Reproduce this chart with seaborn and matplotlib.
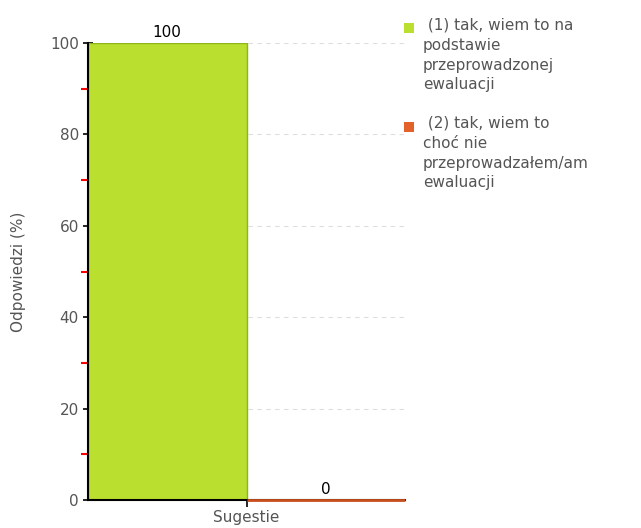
import matplotlib
matplotlib.use("Agg")
import matplotlib.pyplot as plt
import seaborn as sns
import pandas as pd
from matplotlib.ticker import MultipleLocator
from matplotlib.patches import Rectangle

categories = ["Sugestie"]
series = [" (1) tak, wiem to na\npodstawie\nprzeprowadzonej\newaluacji",
          " (2) tak, wiem to\nchoć nie\nprzeprowadzałem/am\newaluacji"]
values = [100, 0]
colors = ["#BADF2E", "#E2622A"]
edges = ["#8DB41A", "#C9501E"]

df = pd.DataFrame({"cat": categories * len(series), "series": series, "value": values})

sns.set_style("white")
plt.rcParams['font.family'] = ['DejaVu Sans']

W, H = 641, 528
fig = plt.figure(figsize=(W / 100, H / 100), dpi=100)
ax = fig.add_axes([88 / W, 1 - 500 / H, (405 - 88) / W, (500 - 43) / H])

sns.barplot(data=df, x="cat", y="value", hue="series", palette=colors, saturation=1,
            width=1.0, dodge=True, ax=ax, legend=False, zorder=2)
for p, ec in zip(ax.patches, edges):
    p.set_edgecolor(ec)
    p.set_linewidth(1.0)
# zero-height bar drawn as a thin line over the axis
ax.patches[1].set_linewidth(2.0)
ax.patches[1].set_zorder(3)
ax.patches[1].set_clip_on(False)

ax.set_xlim(-0.5, 0.5)
ax.set_ylim(0, 100)
ax.yaxis.set_major_locator(MultipleLocator(20))
ax.yaxis.set_minor_locator(MultipleLocator(10))
ax.tick_params(axis="y", which="major", left=True, direction="inout", length=7, width=1.2,
               color="black", labelsize=11, labelcolor="#555555", pad=3)
ax.tick_params(axis="y", which="minor", left=True, direction="out", length=5, width=1.5,
               color="red")
ax.tick_params(axis="x", which="major", bottom=True, direction="out", length=5, width=1.2,
               color="black", labelsize=11, labelcolor="#555555", pad=2)
ax.grid(axis="y", which="major", linestyle=(0, (4, 4)), color="#dddddd", linewidth=0.8, zorder=0)
ax.set_axisbelow(True)
for s in ["top", "right"]:
    ax.spines[s].set_visible(False)
ax.spines["left"].set_linewidth(1.5)
ax.spines["bottom"].set_linewidth(1.5)
ax.spines["left"].set_color("black")
ax.spines["bottom"].set_color("black")
ax.set_xlabel("")
ax.set_ylabel("Odpowiedzi (%)", fontsize=11, color="#555555", labelpad=17)

for cont in ax.containers:
    ax.bar_label(cont, fmt="%d", fontsize=11, color="black", padding=2)

# legend drawn manually (square + multi-line text, aligned to first line)
leg_tops = [18, 116]
sq_tops = [23, 122]
for lab, c, top, sq in zip(series, colors, leg_tops, sq_tops):
    fig.patches.append(Rectangle((404 / W, 1 - (sq + 10) / H), 10 / W, 10 / H,
                                 transform=fig.transFigure, facecolor=c, edgecolor="none"))
    fig.text(423 / W, 1 - top / H, lab, fontsize=11, color="#555555",
             va="top", ha="left", linespacing=1.4)

fig.savefig("out.png", dpi=100)
